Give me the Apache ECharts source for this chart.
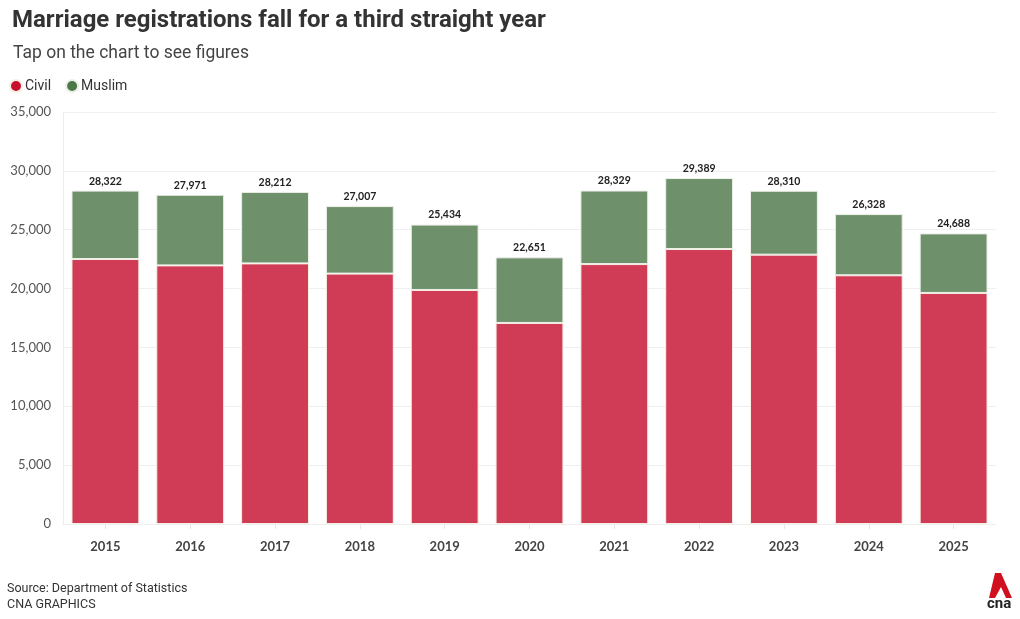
<!DOCTYPE html>
<html>
<head>
<meta charset="utf-8">
<script src="https://cdn.jsdelivr.net/npm/echarts@6/dist/echarts.min.js"></script>
<style>
html,body{margin:0;padding:0;background:#fff;}
#chart{width:1020px;height:619px;}
</style>
</head>
<body>
<div id="chart"></div>
<script>
const years = ['2015','2016','2017','2018','2019','2020','2021','2022','2023','2024','2025'];
const civil = [22510, 21970, 22140, 21270, 19880, 17080, 22080, 23360, 22880, 21130, 19630];
const muslim = [5812, 6001, 6072, 5737, 5554, 5571, 6249, 6029, 5430, 5198, 5058];
const totals = [28322, 27971, 28212, 27007, 25434, 22651, 28329, 29389, 28310, 26328, 24688];
const yTicks = [0, 5000, 10000, 15000, 20000, 25000, 30000, 35000];

const chart = echarts.init(document.getElementById('chart'), null, {renderer: 'canvas'});
const fmt = v => v.toLocaleString('en-US');

chart.setOption({
  animation: false,
  backgroundColor: '#ffffff',
  title: [
    {text: 'Marriage registrations fall for a third straight year', left: 7, top: 4,
     textStyle: {fontFamily: 'Roboto, sans-serif', fontWeight: 'bold', fontSize: 24, color: '#333'}},
    {text: 'Tap on the chart to see figures', left: 8, top: 40,
     textStyle: {fontFamily: 'Roboto, sans-serif', fontWeight: 'normal', fontSize: 17.5, color: '#444'}}
  ],
  legend: {
    left: 4, top: 74, itemWidth: 12, itemHeight: 12, itemGap: 14, icon: 'circle',
    textStyle: {fontFamily: 'Roboto, sans-serif', fontSize: 14, color: '#333', padding: [0,0,0,-2]},
    data: [{name: 'Civil', itemStyle: {color: '#c8102e'}}, {name: 'Muslim', itemStyle: {color: '#4b7a48'}}]
  },
  grid: {left: 63, right: 24, top: 112, bottom: 95},
  xAxis: {
    type: 'category', data: years,
    axisLine: {show: true, lineStyle: {color: '#eeeeee'}},
    axisTick: {show: true, alignWithLabel: true, length: 5, lineStyle: {color: '#e6e6e6'}},
    axisLabel: {margin: 16, fontFamily: 'Lato, "Open Sans", sans-serif', fontWeight: 'bold', fontSize: 13, color: '#444'}
  },
  yAxis: {
    type: 'value', min: 0, max: 35000, interval: 5000,
    axisLine: {show: true, lineStyle: {color: '#eeeeee'}},
    axisTick: {show: false},
    splitLine: {lineStyle: {color: '#efefef'}},
    axisLabel: {margin: 12, fontFamily: 'Lato, "Open Sans", sans-serif', fontSize: 13, color: '#555',
      formatter: v => yTicks.includes(v) ? fmt(v) : ''}
  },
  series: [
    {name: 'Civil', type: 'bar', stack: 'total', barWidth: '80%', data: civil,
     itemStyle: {color: '#d03b55', borderColor: '#f6efe3', borderWidth: 1}},
    {name: 'Muslim', type: 'bar', stack: 'total', barWidth: '80%', data: muslim,
     itemStyle: {color: '#6e916c', borderColor: '#eef0ea', borderWidth: 1},
     label: {show: true, position: 'top', distance: 4,
       formatter: p => fmt(totals[p.dataIndex]),
       fontFamily: 'Lato, "Open Sans", sans-serif', fontWeight: 'bold', fontSize: 10.5, color: '#222'}}
  ],
  graphic: [
    {type: 'text', left: 7, top: 582, style: {text: 'Source: Department of Statistics', fill: '#333',
      font: '12.5px Roboto, sans-serif'}},
    {type: 'text', left: 7, top: 598, style: {text: 'CNA GRAPHICS', fill: '#333',
      font: '12.5px Roboto, sans-serif'}},
    {type: 'polygon', shape: {points: [[995,573],[1001,573],[1012,598],[1006,598],[1001,587],[995,598],[989,598]]},
      style: {fill: '#d0101e'}},
    {type: 'text', left: 987, top: 597, style: {text: 'cna', fill: '#222',
      font: 'bold 15px Roboto, sans-serif'}}
  ]
});
</script>
</body>
</html>
